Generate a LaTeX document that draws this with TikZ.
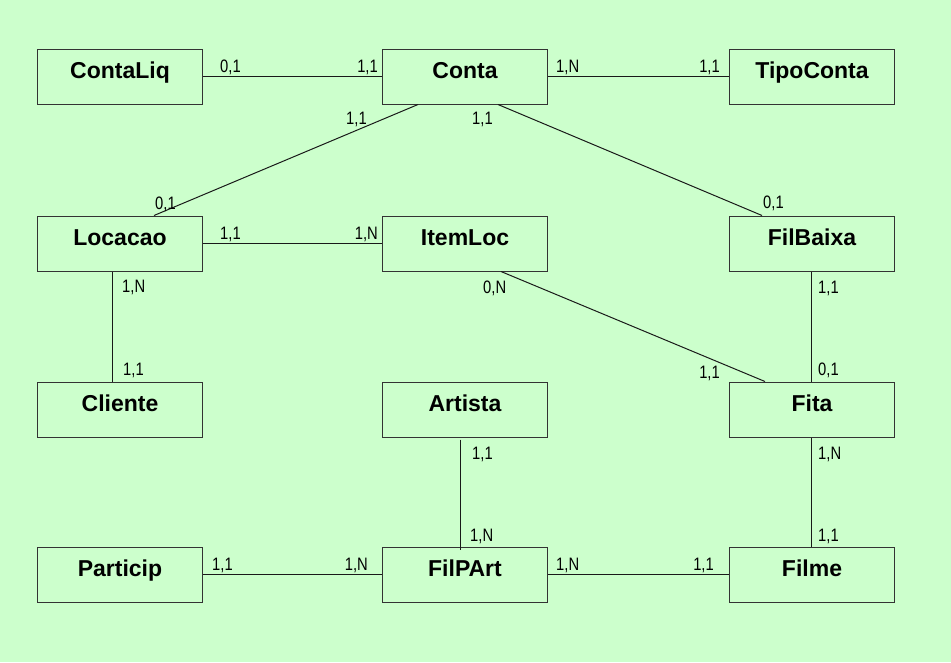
\documentclass[tikz,border=0pt]{standalone}
\usepackage{fontspec}
\setmainfont{Liberation Sans}
\newfontfamily\cardfont[FakeStretch=0.82]{Liberation Sans}
\usetikzlibrary{positioning}
\definecolor{fundo}{HTML}{CCFFCC}

\begin{document}
\begin{tikzpicture}[x=1pt,y=-1pt,
    ent/.style={draw=black!80,line width=1pt,rectangle,minimum width=165pt,minimum height=55pt,
      inner sep=0pt,text height=18pt,text depth=15pt,font=\fontsize{23}{23}\selectfont\bfseries},
    card/.style={inner sep=0pt,font=\cardfont\fontsize{18}{18}\selectfont},
    rel/.style={draw=black!90,line width=1pt}]
    \fill[fundo] (0,0) rectangle (951,662);
    \useasboundingbox (0,0) rectangle (951,662);

    \node[ent] (contaliq) at (120,76.5) {ContaLiq};
    \node[ent] (conta) at (465,76.5) {Conta};
    \node[ent] (tipoconta) at (812,76.5) {TipoConta};
    \node[ent] (locacao) at (120,243.5) {Locacao};
    \node[ent] (itemloc) at (465,243.5) {ItemLoc};
    \node[ent] (filbaixa) at (812,243.5) {FilBaixa};
    \node[ent] (cliente) at (120,409.5) {Cliente};
    \node[ent] (artista) at (465,409.5) {Artista};
    \node[ent] (fita) at (812,409.5) {Fita};
    \node[ent] (particip) at (120,574.5) {Particip};
    \node[ent] (filpart) at (465,574.5) {FilPArt};
    \node[ent] (filme) at (812,574.5) {Filme};

    \draw[rel] (contaliq.east) -- (conta.west);
    \draw[rel] (conta.east) -- (tipoconta.west);
    \draw[rel] ([xshift=36]conta.south west) -- ([xshift=117]locacao.north west);
    \draw[rel] ([xshift=116]conta.south west) -- ([xshift=33]filbaixa.north west);
    \draw[rel] (locacao.east) -- (itemloc.west);
    \draw[rel] ([xshift=75]locacao.south west) -- ([xshift=75]cliente.north west);
    \draw[rel] ([xshift=119]itemloc.south west) -- ([xshift=36]fita.north west);
    \draw[rel] ([xshift=-1]filbaixa.south) -- ([xshift=-1]fita.north);
    \draw[rel] ([xshift=78,yshift=-2]artista.south west) -- ([xshift=78,yshift=-3]filpart.north west);
    \draw[rel] ([xshift=-1]fita.south) -- ([xshift=-1]filme.north);
    \draw[rel] (particip.east) -- (filpart.west);
    \draw[rel] (filpart.east) -- (filme.west);

    % cardinalidades
    \node[card,anchor=base west] (c01) at (220,72) {0,1};
    \node[card,anchor=base east] (c02) at (378,72) {1,1};
    \node[card,anchor=base west] (c03) at (556,72) {1,N};
    \node[card,anchor=base east] (c04) at (720,72) {1,1};
    \node[card,anchor=base west] (c05) at (346,124) {1,1};
    \node[card,anchor=base west] (c06) at (155,209) {0,1};
    \node[card,anchor=base west] (c07) at (472,124) {1,1};
    \node[card,anchor=base west] (c08) at (763,208) {0,1};
    \node[card,anchor=base west] (c09) at (220,239) {1,1};
    \node[card,anchor=base east] (c10) at (378,239) {1,N};
    \node[card,anchor=base west] (c11) at (122,292) {1,N};
    \node[card,anchor=base west] (c12) at (123,375) {1,1};
    \node[card,anchor=base west] (c13) at (483,293) {0,N};
    \node[card,anchor=base east] (c14) at (720,378) {1,1};
    \node[card,anchor=base west] (c15) at (818,293) {1,1};
    \node[card,anchor=base west] (c16) at (818,375) {0,1};
    \node[card,anchor=base west] (c17) at (472,459) {1,1};
    \node[card,anchor=base west] (c18) at (470,541) {1,N};
    \node[card,anchor=base west] (c19) at (818,459) {1,N};
    \node[card,anchor=base west] (c20) at (818,541) {1,1};
    \node[card,anchor=base west] (c21) at (212,570) {1,1};
    \node[card,anchor=base east] (c22) at (368,570) {1,N};
    \node[card,anchor=base west] (c23) at (556,570) {1,N};
    \node[card,anchor=base east] (c24) at (714,570) {1,1};
\end{tikzpicture}
\end{document}
